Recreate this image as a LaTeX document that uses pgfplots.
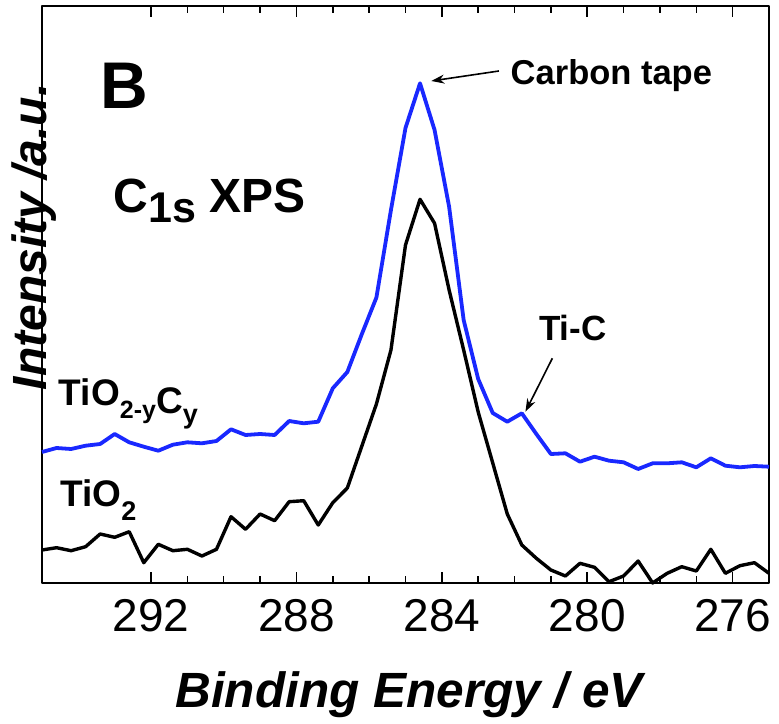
\documentclass[border=0pt]{standalone}
\usepackage{fontspec}
\setmainfont{Liberation Sans}
\usepackage{pgfplots}
\usepackage{pgfplotstable}
\pgfplotsset{compat=1.18}
\usetikzlibrary{arrows.meta}

\definecolor{xpsblue}{RGB}{25,40,255}

% C 1s spectra: binding energy (eV), intensity (arb. units)
\pgfplotstableread{
be     tioc   tio
295.0  131.0  33.0
294.6  135.0  35.3
294.2  134.0  32.3
293.8  137.3  36.3
293.4  139.0  49.0
293.0  149.0  45.7
292.6  140.7  51.3
292.2  136.3  20.3
291.8  132.3  38.7
291.4  138.3  32.3
291.0  140.7  33.7
290.6  139.7  27.0
290.2  142.0  33.7
289.8  153.7  66.3
289.4  148.0  53.7
289.0  149.0  69.0
288.6  148.0  62.3
288.2  162.0  81.3
287.8  159.7  82.3
287.4  161.3  58.0
287.0  194.7  80.3
286.6  211.0  95.0
286.2  249.0  137.0
285.8  285.5  179.0
285.4  373.0  233.0
285.0  455.0  338.0
284.6  499.7  383.7
284.2  453.0  359.7
283.8  376.3  293.0
283.4  263.0  233.0
283.0  204.0  171.0
282.6  170.0  120.0
282.2  161.3  69.0
281.8  169.7  38.0
281.4  149.0  24.7
281.0  129.0  13.0
280.6  129.7  7.0
280.2  121.3  19.7
279.8  126.3  15.7
279.4  122.3  1.3
279.0  120.7  7.0
278.6  114.0  22.0
278.2  119.7  0.0
277.8  119.7  9.7
277.4  120.7  16.3
277.0  115.7  12.0
276.6  124.7  33.7
276.2  117.3  9.7
275.8  115.7  17.3
275.4  117.0  20.3
275.0  116.3  9.7
}\xpsdata

\begin{document}
\begin{tikzpicture}
\begin{axis}[
  width=727pt, height=577pt, scale only axis,
  xmin=275, xmax=295, x dir=reverse,
  ymin=0, ymax=577,
  xtick={276,280,284,288,292},
  minor x tick num=3,
  ytick=\empty,
  xtick pos=both,
  tick align=inside,
  major tick length=11pt, minor tick length=7pt,
  every tick/.style={black, line width=1.5pt},
  axis line style={line width=2.6pt},
  clip=false,
  /pgf/number format/assume math mode=true,
  xticklabel style={font=\fontsize{46}{46}\selectfont, anchor=base, yshift=-48pt},
  xlabel={Binding Energy / eV},
  xlabel style={font=\fontsize{49.5}{49.5}\selectfont\bfseries\itshape,
    at={(axis description cs:0.505,-0.2166)}, anchor=base, inner sep=0pt},
  ylabel={Intensity /a.u.},
  ylabel style={font=\fontsize{48}{48}\selectfont\bfseries\itshape,
    at={(axis description cs:-0.011,0.6)}, anchor=center, inner sep=0pt},
  line join=round,
]
  \addplot[xpsblue, line width=3.8pt] table[x=be, y=tioc] {\xpsdata};
  \addplot[black, line width=3.4pt] table[x=be, y=tio] {\xpsdata};

  \coordinate (bl) at (rel axis cs:0,0);
  \coordinate (tr) at (rel axis cs:1,1);

  % panel letter and spectrum title
  \node[anchor=base west, inner sep=0pt, font=\fontsize{66}{66}\selectfont\bfseries]
    at (axis cs:293.4,474.7) {B};
  \node[anchor=base west, inner sep=0pt, font=\fontsize{48}{48}\selectfont\bfseries]
    at (axis cs:293.04,370) {C\raisebox{-10pt}{\fontsize{43}{43}\selectfont 1s} XPS};

  % sample labels
  \node[anchor=base west, inner sep=0pt, font=\fontsize{37}{37}\selectfont\bfseries]
    at (axis cs:294.54,178) {TiO\raisebox{-13pt}{\fontsize{25}{25}\selectfont 2-y}\raisebox{-8pt}{C\raisebox{-10pt}{\fontsize{27}{27}\selectfont y}}};
  \node[anchor=base west, inner sep=0pt, font=\fontsize{37}{37}\selectfont\bfseries]
    at (axis cs:294.5,76.3) {TiO\raisebox{-14pt}{\fontsize{27}{27}\selectfont 2}};

  % peak annotations
  \node[anchor=base west, inner sep=0pt, font=\fontsize{34.5}{34.5}\selectfont\bfseries]
    at (axis cs:282.11,498) {Carbon tape};
  \draw[line width=1.6pt, -{Stealth[length=13pt, width=9pt]}]
    (axis cs:282.43,512) -- (axis cs:284.29,502);
  \node[anchor=base west, inner sep=0pt, font=\fontsize{35}{35}\selectfont\bfseries]
    at (axis cs:281.33,243) {Ti-C};
  \draw[line width=1.6pt, -{Stealth[length=13pt, width=9pt]}]
    (axis cs:280.96,224.7) -- (axis cs:281.70,171.3);
\end{axis}
\pgfresetboundingbox
\useasboundingbox ([xshift=-42pt,yshift=-140pt]bl) rectangle ([xshift=10pt,yshift=6pt]tr);
\end{tikzpicture}
\end{document}
